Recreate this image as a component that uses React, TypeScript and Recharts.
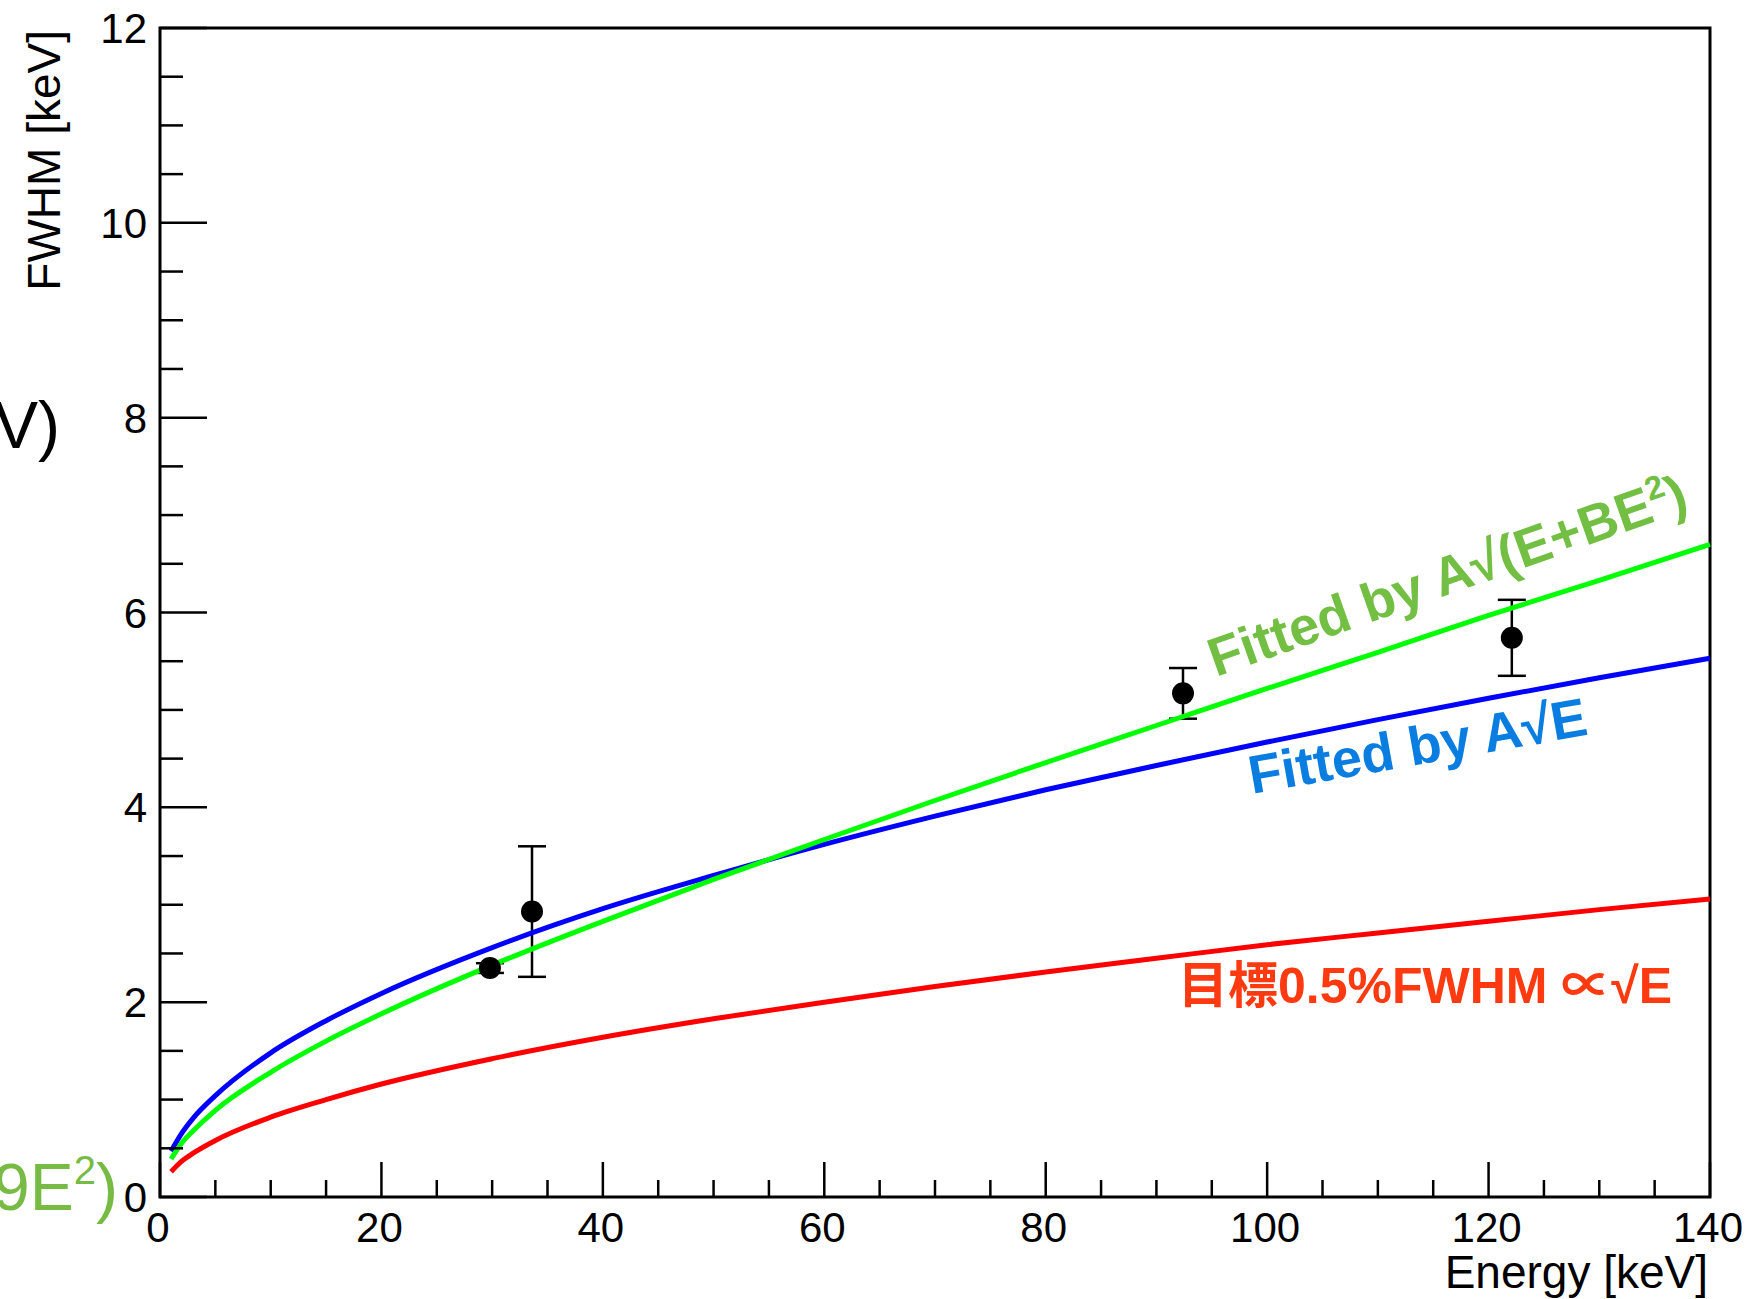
import { ComposedChart, Line, Scatter, ErrorBar, XAxis, YAxis, ReferenceArea } from "recharts"

const energy = [1, 2, 3, 5, 10, 15, 20, 30, 40, 50, 60, 70, 80, 90, 100, 110, 120, 130, 140]
// Fitted by A√E (blue)
const fitSqrtE = [0.47, 0.66, 0.81, 1.04, 1.48, 1.81, 2.09, 2.56, 2.96, 3.3, 3.62, 3.91, 4.18, 4.43, 4.67, 4.9, 5.12, 5.33, 5.53]
// Fitted by A√(E+BE²) (green)
const fitSqrtEBE2 = [0.39, 0.56, 0.68, 0.89, 1.28, 1.6, 1.88, 2.38, 2.83, 3.26, 3.67, 4.07, 4.46, 4.84, 5.22, 5.59, 5.97, 6.33, 6.7]
// 目標 0.5% FWHM ∝ √E (red)
const target = [0.26, 0.37, 0.45, 0.58, 0.82, 1.0, 1.16, 1.42, 1.64, 1.83, 2.0, 2.16, 2.31, 2.45, 2.59, 2.71, 2.83, 2.95, 3.06]

// measured points
const measE = [29.8, 33.6, 92.4, 122.1]
const measFwhm = [2.35, 2.93, 5.17, 5.74]
const measErr = [0.05, 0.67, 0.26, 0.39]

const xTicks = [0, 5, 10, 15, 20, 25, 30, 35, 40, 45, 50, 55, 60, 65, 70, 75, 80, 85, 90, 95, 100, 105, 110, 115, 120, 125, 130, 135, 140]
const yTicks = [0, 0.5, 1, 1.5, 2, 2.5, 3, 3.5, 4, 4.5, 5, 5.5, 6, 6.5, 7, 7.5, 8, 8.5, 9, 9.5, 10, 10.5, 11, 11.5, 12]

const blueData = energy.map((e, i) => ({ e, v: fitSqrtE[i] }))
const greenData = energy.map((e, i) => ({ e, v: fitSqrtEBE2[i] }))
const redData = energy.map((e, i) => ({ e, v: target[i] }))
const points = measE.map((e, i) => ({ e, v: measFwhm[i], err: measErr[i] }))

const FONT = "'Liberation Sans', Arial, Helvetica, 'Noto Sans CJK JP', sans-serif"

const XTick = (props: any) => {
  const { x, y, payload } = props
  const major = payload.value % 20 === 0
  return (
    <g>
      <line x1={x} y1={y} x2={x} y2={y - (major ? 35 : 17)} stroke="#000" strokeWidth={2.5} />
      {major && (
        <text x={x - 2} y={y + 45} textAnchor="middle" fontSize={42} fontFamily={FONT} fill="#000">
          {payload.value}
        </text>
      )}
    </g>
  )
}

const YTick = (props: any) => {
  const { x, y, payload } = props
  const major = payload.value % 2 === 0
  return (
    <g>
      <line x1={x} y1={y} x2={x + (major ? 47 : 23)} y2={y} stroke="#000" strokeWidth={2.5} />
      {major && (
        <text x={x - 13} y={y + 15} textAnchor="end" fontSize={42} fontFamily={FONT} fill="#000">
          {payload.value}
        </text>
      )}
    </g>
  )
}

const Dot = (props: any) => <circle cx={props.cx} cy={props.cy} r={11} fill="#000" />

export default function App() {
  return (
    <div style={{ position: "absolute", left: 0, top: 0, width: 1747, height: 1299, background: "#fff", overflow: "hidden" }}>
      <ComposedChart width={1747} height={1299} margin={{ top: 28, right: 37, left: 0, bottom: 0 }}>
        <XAxis
          dataKey="e"
          type="number"
          domain={[0, 140]}
          ticks={xTicks}
          interval={0}
          height={102}
          axisLine={false}
          tickLine={false}
          tickSize={0}
          tickMargin={0}
          tick={<XTick />}
        />
        <YAxis
          type="number"
          domain={[0, 12]}
          ticks={yTicks}
          interval={0}
          width={160}
          axisLine={false}
          tickLine={false}
          tickSize={0}
          tickMargin={0}
          tick={<YTick />}
        />
        <ReferenceArea x1={0} x2={140} y1={0} y2={12} fill="none" stroke="#000" strokeWidth={3} ifOverflow="visible" />
        <Scatter data={points} dataKey="v" shape={<Dot />} isAnimationActive={false}>
          <ErrorBar dataKey="err" direction="y" width={14} stroke="#000" strokeWidth={2.5} isAnimationActive={false} />
        </Scatter>
        <Line data={redData} dataKey="v" type="monotone" stroke="#ff0000" strokeWidth={5} dot={false} isAnimationActive={false} />
        <Line data={blueData} dataKey="v" type="monotone" stroke="#0000ff" strokeWidth={5} dot={false} isAnimationActive={false} />
        <Line data={greenData} dataKey="v" type="monotone" stroke="#00ff00" strokeWidth={5} dot={false} isAnimationActive={false} />
      </ComposedChart>
      <svg width={1747} height={1299} style={{ position: "absolute", left: 0, top: 0, pointerEvents: "none" }} fontFamily={FONT}>
        <text x={60} y={30} transform="rotate(-90 60 30)" textAnchor="end" fontSize={46} fill="#000">FWHM [keV]</text>
        <text x={1708} y={1288} textAnchor="end" fontSize={46} fill="#000">Energy [keV]</text>
        <text x={60} y={448} textAnchor="end" fontSize={66} fill="#000">V)</text>
        <text x={118} y={1210} textAnchor="end" fontSize={66} fill="#77bb44">
          9E<tspan dy={-26} fontSize={40}>2</tspan><tspan dy={26} fontSize={66}>)</tspan>
        </text>
        <text x={1216} y={677} transform="rotate(-19.5 1216 677)" fontSize={54} fontWeight="bold" fill="#72bf44">
          Fitted by A√(E+BE<tspan dy={-21} fontSize={33}>2</tspan><tspan dy={21} fontSize={54}>)</tspan>
        </text>
        <text x={1252} y={794} transform="rotate(-10 1252 794)" fontSize={54} fontWeight="bold" fill="#0a7de0">
          Fitted by A√E
        </text>
        <text x={1178} y={1003} fontSize={50} fontWeight="bold" fill="#ff3a10">
          目標0.5%FWHM ∝√E
        </text>
      </svg>
    </div>
  )
}
